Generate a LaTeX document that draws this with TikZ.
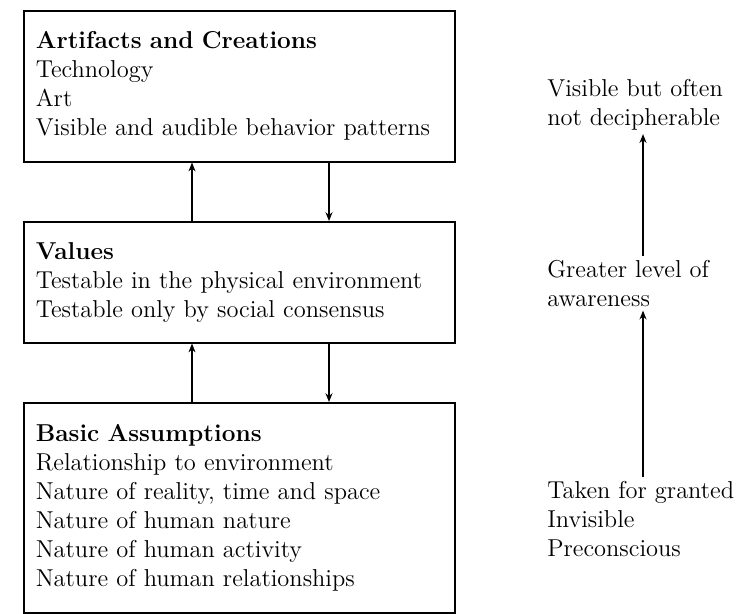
\documentclass[tikz,border=0pt]{standalone}
\usepackage{tikz}
\usetikzlibrary{positioning, arrows.meta}
\newcommand{\levelfont}{\fontsize{13.9}{16.5}\selectfont}

\begin{document}
\begin{tikzpicture}[
      lbox/.style={rectangle, draw, line width=0.9pt, anchor=north west,
                   inner xsep=0.24cm, inner ysep=0pt, text width=8.14cm,
                   align=left, font=\levelfont},
      side/.style={anchor=north west, inner sep=0pt, align=left, font=\levelfont},
      arr/.style={-{Stealth[length=5pt, width=4pt]}, line width=0.7pt}
    ]
    \useasboundingbox (0,0) rectangle (15.08,12.26);

    \node[lbox, minimum height=3.02cm] (art) at (0.46,12.06)
          {\textbf{Artifacts and Creations}\\Technology\\Art\\Visible and audible behavior patterns};
    \node[lbox, minimum height=2.42cm] (val) at (0.46,7.84)
          {\textbf{Values}\\Testable in the physical environment\\Testable only by social consensus};
    \node[lbox, minimum height=4.20cm] (bas) at (0.46,4.22)
          {\textbf{Basic Assumptions}\\Relationship to environment\\Nature of reality, time and space\\Nature of human nature\\Nature of human activity\\Nature of human relationships};

    \coordinate (upx)   at (3.84,0);
    \coordinate (downx) at (6.58,0);
    \draw[arr] (val.north -| upx)   -- (art.south -| upx);
    \draw[arr] (art.south -| downx) -- (val.north -| downx);
    \draw[arr] (bas.north -| upx)   -- (val.south -| upx);
    \draw[arr] (val.south -| downx) -- (bas.north -| downx);

    % awareness scale on the right
    \node[side] (vis) at (10.94,10.68) {Visible but often\\not decipherable};
    \node[side] (gre) at (10.94,7.06)  {Greater level of\\awareness};
    \node[side] (tak) at (10.94,2.64)  {Taken for granted\\Invisible\\Preconscious};

    \coordinate (sidex) at (12.86,0);
    \draw[arr, shorten <=2pt, shorten >=2pt] (gre.north -| sidex) -- (vis.south -| sidex);
    \draw[arr, shorten <=2pt, shorten >=2pt] (tak.north -| sidex) -- (gre.south -| sidex);
  \end{tikzpicture}
\end{document}
